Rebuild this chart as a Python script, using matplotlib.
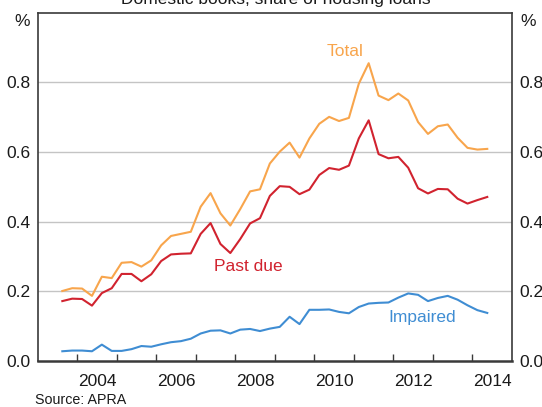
import numpy as np
import pandas as pd
import matplotlib
matplotlib.use("Agg")
import matplotlib.pyplot as plt

plt.rcParams["font.family"] = ["Liberation Sans", "DejaVu Sans"]

# Quarterly observations, Sep 2003 to Jun 2014 (per cent of housing loans)
quarters = pd.period_range("2003Q3", "2014Q2", freq="Q")

total = [0.201, 0.209, 0.208, 0.187, 0.242, 0.238, 0.282, 0.284, 0.271, 0.289,
         0.332, 0.359, 0.365, 0.371, 0.443, 0.482, 0.424, 0.389, 0.436, 0.487,
         0.493, 0.567, 0.601, 0.627, 0.584, 0.639, 0.681, 0.701, 0.689, 0.698,
         0.796, 0.855, 0.762, 0.749, 0.768, 0.748, 0.686, 0.652, 0.674, 0.679,
         0.641, 0.612, 0.607, 0.609]
past_due = [0.172, 0.179, 0.178, 0.159, 0.195, 0.209, 0.250, 0.250, 0.229, 0.249,
            0.287, 0.306, 0.308, 0.309, 0.365, 0.396, 0.336, 0.310, 0.350, 0.395,
            0.410, 0.474, 0.502, 0.500, 0.479, 0.492, 0.534, 0.554, 0.549, 0.561,
            0.639, 0.691, 0.594, 0.582, 0.586, 0.555, 0.496, 0.481, 0.494, 0.493,
            0.466, 0.452, 0.462, 0.471]
impaired = [0.028, 0.030, 0.030, 0.028, 0.047, 0.029, 0.029, 0.034, 0.043, 0.041,
            0.048, 0.054, 0.057, 0.064, 0.079, 0.087, 0.088, 0.079, 0.090, 0.092,
            0.086, 0.093, 0.098, 0.127, 0.106, 0.147, 0.147, 0.148, 0.141, 0.137,
            0.155, 0.165, 0.167, 0.168, 0.182, 0.194, 0.190, 0.172, 0.181, 0.187,
            0.176, 0.160, 0.146, 0.138]

year_labels = ["2004", "2006", "2008", "2010", "2012", "2014"]
y_ticks = [0.0, 0.2, 0.4, 0.6, 0.8]

# mid-quarter decimal year
x = np.array([q.year + (q.quarter - 0.5) / 4 for q in quarters])

c_total = "#F8A54C"
c_past = "#D1232F"
c_imp = "#3F8DD3"
spine_col = "#3a3a3a"
txt_col = "#1a1a1a"

fig = plt.figure(figsize=(5.42, 4.07), dpi=100)
ax = fig.add_axes([0.0694, 0.113, 0.8752, 0.8558])

ax.plot(x, total, color=c_total, lw=1.5)
ax.plot(x, past_due, color=c_past, lw=1.5)
ax.plot(x, impaired, color=c_imp, lw=1.5)

ax.set_xlim(2003, 2015)
ax.set_ylim(0, 1.0)

ax.set_yticks(y_ticks)
ax.set_yticklabels([f"{v:.1f}" for v in y_ticks])
ax.tick_params(axis="y", length=0, labelsize=12.5, pad=5,
               labelleft=True, labelright=True, colors=txt_col)
for v in y_ticks[1:]:
    ax.axhline(v, color="#c4c4c4", lw=1, zorder=0)

ax.set_xticks(np.arange(2004, 2015))
ax.set_xticklabels([])
ax.tick_params(axis="x", which="major", direction="in", length=5,
               width=1, color=spine_col)
ax.set_xticks([int(y) + 0.5 for y in year_labels], minor=True)
ax.set_xticklabels(year_labels, minor=True)
ax.tick_params(axis="x", which="minor", length=0, labelsize=12.5, pad=9,
               colors=txt_col)

for s in ["left", "right", "top"]:
    ax.spines[s].set_color(spine_col)
    ax.spines[s].set_linewidth(1.2)
ax.spines["bottom"].set_color(spine_col)
ax.spines["bottom"].set_linewidth(1.8)

ax.text(2010.78, 0.89, "Total", color=c_total, fontsize=12.5, ha="center", va="center")
ax.text(2008.32, 0.271, "Past due", color=c_past, fontsize=12.5, ha="center", va="center")
ax.text(2012.72, 0.124, "Impaired", color=c_imp, fontsize=12.5, ha="center", va="center")

fig.text(22.6 / 542, 1 - 21 / 407, "%", fontsize=12.5, ha="center", va="center", color=txt_col)
fig.text(528 / 542, 1 - 21 / 407, "%", fontsize=12.5, ha="center", va="center", color=txt_col)
fig.text(0.509, 1 - 4 / 407, "Domestic books, share of housing loans", fontsize=12.5,
         ha="center", va="baseline", color=txt_col)
fig.text(35 / 542, 1 - 400 / 407, "Source: APRA", fontsize=10.3, ha="left", va="center",
         color=txt_col)

fig.savefig("out.png", dpi=100)
